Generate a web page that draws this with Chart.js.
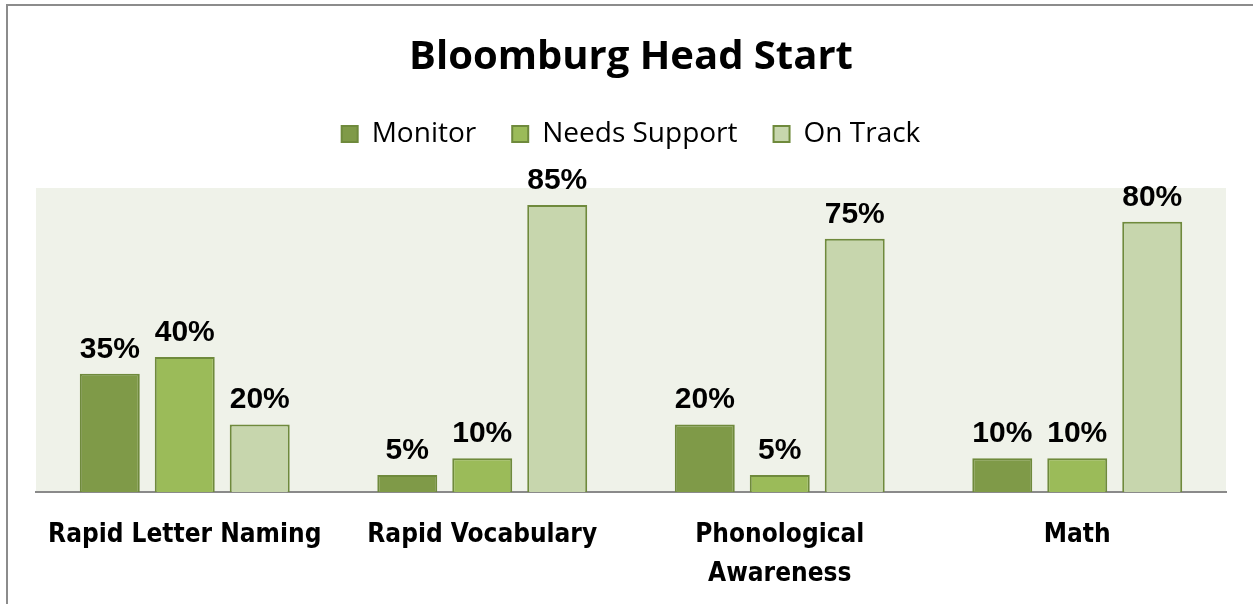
<!DOCTYPE html>
<html>
<head>
<meta charset="utf-8">
<script src="https://cdn.jsdelivr.net/npm/chart.js@4.4.1/dist/chart.umd.min.js"></script>
<style>
  html, body { margin: 0; padding: 0; background: #fff; }
  #wrap { width: 1253px; height: 604px; position: relative; }
</style>
</head>
<body>
<div id="wrap"><canvas id="chart"></canvas></div>
<script>
/* Bloomburg Head Start - grouped bars */
const categories = ['Rapid Letter Naming', 'Rapid Vocabulary', ['Phonological', 'Awareness'], 'Math'];
const seriesNames = ['Monitor', 'Needs Support', 'On Track'];
const monitor = [35, 5, 20, 10];
const needsSupport = [40, 10, 5, 10];
const onTrack = [20, 85, 75, 80];

const colors = {
    monitor: '#7f9a48', needs: '#9bbb59', onTrack: '#c7d6ad',
    edge: '#6f8a3c', plotBg: '#eff2e9', axis: '#8a8a8a', frame: '#8c8c8c'
};

// plot background + outer frame
const backdrop = {
    id: 'backdrop',
    beforeDraw(chart) {
        const { ctx, chartArea: a } = chart;
        ctx.save();
        ctx.fillStyle = colors.plotBg;
        ctx.fillRect(a.left, a.top, a.right - a.left, a.bottom - a.top);
        ctx.strokeStyle = colors.frame;
        ctx.lineWidth = 2;
        ctx.beginPath();
        ctx.moveTo(7, chart.height);
        ctx.lineTo(7, 5);
        ctx.lineTo(chart.width, 5);
        ctx.stroke();
        ctx.restore();
    }
};

// value labels above bars
const valueLabels = {
    id: 'valueLabels',
    afterDatasetsDraw(chart) {
        const { ctx } = chart;
        ctx.save();
        ctx.font = 'bold 30px "Liberation Sans", Arial, sans-serif';
        ctx.fillStyle = '#000';
        ctx.textAlign = 'center';
        ctx.textBaseline = 'alphabetic';
        chart.data.datasets.forEach((ds, i) => {
            chart.getDatasetMeta(i).data.forEach((bar, j) => {
                ctx.fillText(ds.data[j] + '%', bar.x, bar.y - 16);
            });
        });
        ctx.restore();
    }
};

// extra gap under the legend
const legendGap = {
    id: 'legendGap',
    beforeInit(chart) {
        const fit = chart.legend.fit;
        chart.legend.fit = function () {
            fit.call(this);
            this.height += 30;
        };
    }
};

const ds = (label, data, fill) => ({
    label, data, backgroundColor: fill, borderColor: colors.edge, borderWidth: 2,
    categoryPercentage: 0.756, barPercentage: 0.8
});

new Chart(document.getElementById('chart'), {
    type: 'bar',
    data: {
        labels: categories,
        datasets: [
            ds(seriesNames[0], monitor, colors.monitor),
            ds(seriesNames[1], needsSupport, colors.needs),
            ds(seriesNames[2], onTrack, colors.onTrack)
        ]
    },
    options: {
        responsive: true,
        maintainAspectRatio: false,
        animation: false,
        layout: { padding: { left: 36, right: 27, top: 0, bottom: 0 } },
        plugins: {
            title: {
                display: true, text: 'Bloomburg Head Start', color: '#000',
                font: { family: '"Open Sans", sans-serif', size: 40, weight: 'bold' },
                padding: { top: 34, bottom: 2 }
            },
            legend: {
                display: true,
                labels: {
                    color: '#000', boxWidth: 16, boxHeight: 16, padding: 36,
                    font: { family: '"Open Sans", sans-serif', size: 28 }
                }
            },
            tooltip: { enabled: false }
        },
        scales: {
            x: {
                grid: { display: false, drawTicks: false },
                border: { display: true, color: colors.axis, width: 2 },
                afterFit(scale) { scale.height = 112; },
                ticks: {
                    color: '#000', padding: 24, maxRotation: 0, autoSkip: false,
                    font: { family: '"DejaVu Sans Condensed", sans-serif', size: 26, weight: 'bold', lineHeight: 1.5 }
                }
            },
            y: { display: false, min: 0, max: 90 }
        }
    },
    plugins: [backdrop, valueLabels, legendGap]
});
</script>
</body>
</html>
